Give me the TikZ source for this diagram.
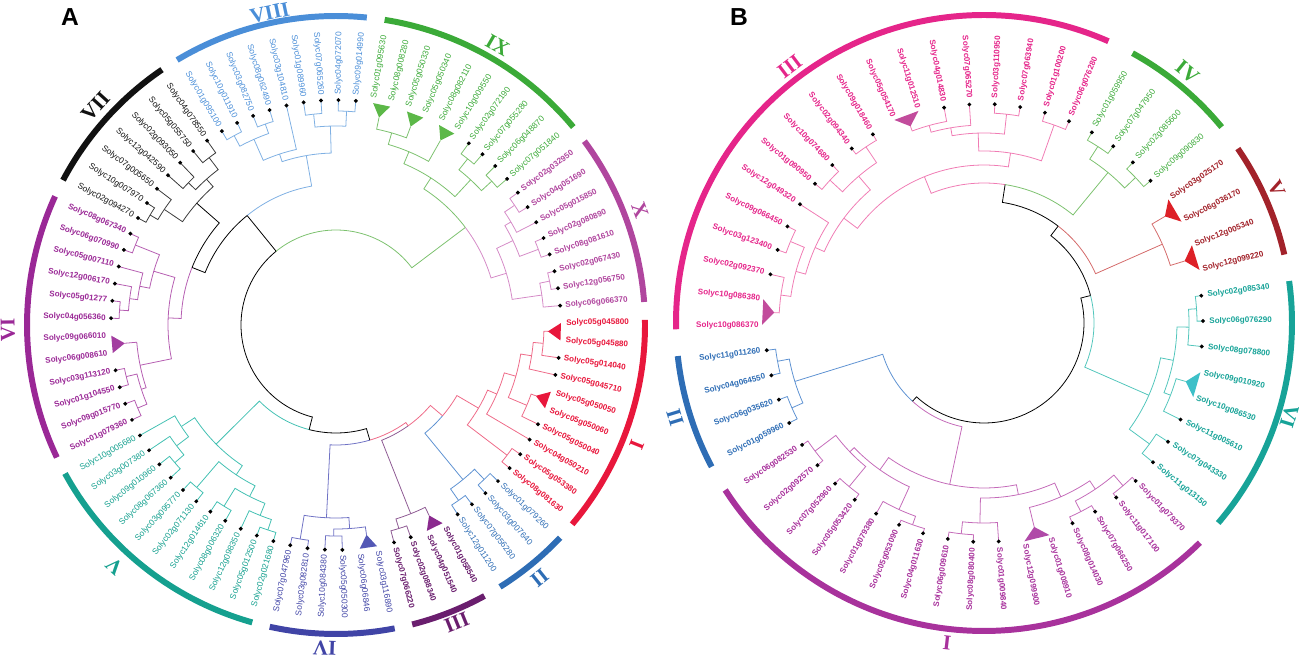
\documentclass[tikz,border=0pt]{standalone}
\usepackage{fontspec}
\setmainfont{Liberation Serif}
\setsansfont{Liberation Sans}
\usetikzlibrary{shapes.geometric}

\definecolor{aVII}{HTML}{111111}\definecolor{aVIIl}{HTML}{3A3A3A}
\definecolor{aVIII}{HTML}{4A8ED8}\definecolor{aVIIIl}{HTML}{7FB0E3}
\definecolor{aIX}{HTML}{3BAA38}\definecolor{aIXl}{HTML}{7CC16E}\definecolor{aIXt}{HTML}{5CB848}
\definecolor{aX}{HTML}{B0469E}\definecolor{aXl}{HTML}{D58BC7}
\definecolor{aI}{HTML}{E8173C}\definecolor{aIl}{HTML}{EE6A88}
\definecolor{aII}{HTML}{2E6DB5}\definecolor{aIIl}{HTML}{5E92D2}
\definecolor{aIII}{HTML}{6A1E6E}\definecolor{aIIIl}{HTML}{8E5A93}\definecolor{aIIIt}{HTML}{8A2A8E}
\definecolor{aIV}{HTML}{4044A6}\definecolor{aIVl}{HTML}{6F72C4}\definecolor{aIVt}{HTML}{5358B5}
\definecolor{aV}{HTML}{15A08F}\definecolor{aVl}{HTML}{42C0B2}
\definecolor{aVI}{HTML}{9A2896}\definecolor{aVIl}{HTML}{B55DB1}\definecolor{aVIt}{HTML}{A33DA0}
\definecolor{bIII}{HTML}{E5258A}\definecolor{bIIIl}{HTML}{F07CB4}\definecolor{bIIIt}{HTML}{C24C9C}
\definecolor{bIV}{HTML}{3BAA38}\definecolor{bIVl}{HTML}{7CC16E}
\definecolor{bV}{HTML}{A2222A}\definecolor{bVl}{HTML}{D46A6A}\definecolor{bVt}{HTML}{DD2027}
\definecolor{bVI}{HTML}{17A398}\definecolor{bVIl}{HTML}{52C6BC}\definecolor{bVIt}{HTML}{3DC0C8}
\definecolor{bI}{HTML}{A8329C}\definecolor{bIl}{HTML}{C46BB9}\definecolor{bIt}{HTML}{B04AA8}
\definecolor{bII}{HTML}{2E6DB5}\definecolor{bIIl}{HTML}{5E92D2}

\tikzset{
  lblb/.style={font=\sffamily\bfseries\fontsize{4.6}{5}\selectfont, inner sep=0pt},
  lbln/.style={font=\sffamily\fontsize{4.8}{5}\selectfont, inner sep=0pt},
  curlbl/.style={lblb},
  leafdot/.style={diamond, fill=black, inner sep=0pt, minimum size=0.09cm},
  tree/.style={line width=0.45pt},
  cladearc/.style={line width=3.4pt},
  numeral/.style={font=\rmfamily\bfseries\fontsize{12}{12}\selectfont, inner sep=0pt},
  panel/.style={font=\sffamily\bfseries\fontsize{14}{14}\selectfont, inner sep=0pt}
}

% one split of the tree: child 1 (index, radius), child 2 (index, radius), node radius, two colours
\newcommand\brn[7]{%
  \pgfmathsetmacro\aA{\ka-(#1)*\ks}%
  \pgfmathsetmacro\aB{\ka-(#3)*\ks}%
  \pgfmathsetmacro\aM{(\aA+\aB)/2}%
  \draw[tree,draw=#6] (\aA:#2) -- (\aA:#5) arc[start angle=\aA, end angle=\aM, radius=#5*0.02cm];
  \draw[tree,draw=#7] (\aM:#5) arc[start angle=\aM, end angle=\aB, radius=#5*0.02cm] -- (\aB:#4);}
\newcommand\brc[5]{\brn{#1}{#2}{#3}{#4}{#5}{\tcl}{\tcl}}

% a leaf: index, text, dot yes/no, colour
\newcommand\leaf[4]{%
  \pgfmathsetmacro\la{\ka-(#1)*\ks}%
  \pgfmathsetmacro\lb{mod(\la+540,360)-180}%
  \pgfmathtruncatemacro\lf{abs(\lb)>90 ? 1 : 0}%
  \ifnum#3=1 \node[leafdot] (\pp d#1) at (\la:\RD) {};\fi
  \ifnum\lf=1
    \node[curlbl,text=#4,anchor=east,rotate=\lb+180] (\pp#1) at (\la:\RT) {#2};
  \else
    \node[curlbl,text=#4,anchor=west,rotate=\lb] (\pp#1) at (\la:\RT) {#2};
  \fi}

\newcommand\tri[2]{%
  \pgfmathsetmacro\tA{\ka-(#1)*\ks}%
  \pgfmathsetmacro\tB{\ka-(#1+1)*\ks}%
  \pgfmathsetmacro\tM{(\tA+\tB)/2}%
  \fill[fill=#2] (\tA:\RB) -- (\tM:\RTip) -- (\tB:\RB) -- cycle;}

\newcommand\clade[3]{%
  \pgfmathsetmacro\cA{\ka-(#1-0.1)*\ks}%
  \pgfmathsetmacro\cB{\ka-(#2+0.15)*\ks}%
  \draw[cladearc,draw=#3] (\cA:\RC) arc[start angle=\cA, end angle=\cB, radius=\RC*0.02cm];}

\newcommand\numeral[5]{%
  \node[numeral,text=#5,rotate=#2-90] (#1) at (#2:#3) {#4};}

\begin{document}
\begin{tikzpicture}[x=0.02cm,y=0.02cm]
\useasboundingbox (0,0) rectangle (1299,656);
\node[panel] (lettA) at (70,639) {A};
\node[panel] (lettB) at (739,639) {B};

% ---------------- panel A
\begin{scope}[shift={(336,331)}]
\def\ka{80.5}\def\ks{4.444444}\def\RD{225}\def\RT{230}\def\RB{225}\def\RTip{212}\def\RC{309}\def\pp{A}
% VII
\def\tcl{aVIIl}
\brc{-16}{\RD}{-15}{\RD}{216}
\brc{-15.5}{216}{-14}{\RD}{207}
\brc{-13}{\RD}{-12}{\RD}{205}
\brc{-11}{\RD}{-10}{\RD}{210}
\brc{-12.5}{205}{-10.5}{210}{195}
\brc{-14.75}{207}{-11.5}{195}{185}
% VIII
\def\tcl{aVIIIl}
\brc{-9}{\RD}{-8}{\RD}{215}
\brc{-7}{\RD}{-6}{\RD}{213}
\brc{-8.5}{215}{-6.5}{213}{203}
\brc{-7.5}{203}{-5}{\RD}{180}
\brc{-4}{\RD}{-3}{\RD}{212}
\brc{-2}{\RD}{-1}{\RD}{214}
\brc{-3.5}{212}{-1.5}{214}{199}
\brc{-6.25}{180}{-2.5}{199}{172}
% IX
\def\tcl{aIXl}
\brc{0.5}{\RTip}{2.5}{\RTip}{200}
\brc{1.5}{200}{4.5}{\RTip}{188}
\brc{6}{\RD}{7}{\RD}{212}
\brc{8}{\RD}{9}{\RD}{212}
\brc{6.5}{212}{8.5}{212}{198}
\brc{3}{188}{7.5}{198}{175}
% X
\def\tcl{aXl}
\brc{10}{\RD}{11}{\RD}{215}
\brc{10.5}{215}{12}{\RD}{203}
\brc{13}{\RD}{14}{\RD}{216}
\brc{11.25}{203}{13.5}{216}{196}
\brc{15}{\RD}{16}{\RD}{218}
\brc{15.5}{218}{17}{\RD}{208}
\brc{12.375}{196}{16.25}{208}{178}
% I
\def\tcl{aIl}
\brc{18.5}{\RTip}{20}{\RD}{208}
\brc{19.25}{208}{21}{\RD}{198}
\brc{22.5}{\RTip}{24}{\RD}{207}
\brc{20.125}{198}{23.25}{207}{187}
\brc{21.6875}{187}{25}{\RD}{175}
\brc{26}{\RD}{27}{\RD}{215}
\brc{23.34375}{175}{26.5}{215}{165}
% II
\def\tcl{aIIl}
\brc{28}{\RD}{29}{\RD}{214}
\brc{30}{\RD}{31}{\RD}{214}
\brc{28.5}{214}{30.5}{214}{200}
% III
\def\tcl{aIIIl}
\brc{34}{\RD}{35}{\RD}{213}
\brc{32.5}{\RTip}{34.5}{213}{203}
% IV
\def\tcl{aIVl}
\brc{40}{\RD}{41}{\RD}{217}
\brc{38}{\RD}{39}{\RD}{211}
\brc{36.5}{\RTip}{38.5}{211}{204}
\brc{37.5}{204}{40.5}{217}{193}
% V
\def\tcl{aVl}
\brc{42}{\RD}{43}{\RD}{216}
\brc{42.5}{216}{44}{\RD}{205}
\brc{45}{\RD}{46}{\RD}{213}
\brc{43.25}{205}{45.5}{213}{192}
\brc{47}{\RD}{48}{\RD}{214}
\brc{44.375}{192}{47.5}{214}{180}
\brc{49}{\RD}{50}{\RD}{212}
\brc{49.5}{212}{51}{\RD}{200}
\brc{50.25}{200}{52}{\RD}{185}
\brc{45.9375}{180}{51.125}{185}{169}
% VI
\def\tcl{aVIl}
\brc{53}{\RD}{54}{\RD}{215}
\brc{55}{\RD}{56}{\RD}{216}
\brc{53.5}{215}{55.5}{216}{205}
\brc{54.5}{205}{57.5}{\RTip}{200}
\brc{59}{\RD}{60}{\RD}{217}
\brc{59.5}{217}{61}{\RD}{208}
\brc{60.25}{208}{62}{\RD}{200}
\brc{63}{\RD}{64}{\RD}{216}
\brc{61.125}{200}{63.5}{216}{190}
\brc{56}{200}{62.3125}{190}{168}
% backbone
\brn{5.25}{175}{14.3125}{178}{162}{aIXl}{aXl}
\brn{24.921875}{165}{29.5}{200}{140}{aIl}{aIIl}
\brn{27.2109}{140}{33.5}{203}{124}{aIl}{aIIIl}
\brn{30.3555}{124}{39}{193}{120}{aIl}{aIVl}
\brn{34.6777}{120}{48.5313}{169}{108}{black}{aVl}
\brn{59.1563}{168}{67.875}{185}{155}{aVIl}{black}
\brn{63.5156}{155}{76.625}{172}{141}{black}{aVIIIl}
\brn{41.6045}{108}{70.0703}{141}{95}{black}{black}
\brn{70.0703}{95}{90.7813}{162}{95}{aIXl}{aIXl}
% collapsed pairs
\tri{0}{aIXt}\tri{2}{aIXt}\tri{4}{aIXt}
\tri{18}{aI}\tri{22}{aI}
\tri{32}{aIIIt}\tri{36}{aIVt}\tri{57}{aVIt}
% leaves
\tikzset{curlbl/.style={lbln}}
\foreach \kk/\nm/\dt in {-16/Solyc02g094270/1,-15/Solyc10g007970/1,-14/Solyc07g005650/1,-13/Solyc12g042590/1,-12/Solyc02g093050/1,-11/Solyc05g055750/1,-10/Solyc04g078550/1}{\leaf{\kk}{\nm}{\dt}{aVII}}
\foreach \kk/\nm/\dt in {-9/Solyc01g095100/1,-8/Solyc10g011910/1,-7/Solyc03g082750/1,-6/Solyc08g062490/1,-5/Solyc03g104810/1,-4/Solyc01g089960/1,-3/Solyc07g065260/1,-2/Solyc04g072070/1,-1/Solyc09g014990/1}{\leaf{\kk}{\nm}{\dt}{aVIII}}
\foreach \kk/\nm/\dt in {0/Solyc01g095630/0,1/Solyc08g008280/0,2/Solyc05g050330/0,3/Solyc05g050340/0,4/Solyc08g082110/0,5/Solyc10g009550/0,6/Solyc02g072190/1,7/Solyc07g055280/1,8/Solyc06g048870/1,9/Solyc07g051840/1}{\leaf{\kk}{\nm}{\dt}{aIX}}
\foreach \kk/\nm/\dt in {28/Solyc01g079260/1,29/Solyc03g007640/1,30/Solyc07g056280/1,31/Solyc12g011200/1}{\leaf{\kk}{\nm}{\dt}{aII}}
\foreach \kk/\nm/\dt in {36/Solyc03g116890/0,37/Solyc06g06846/0,38/Solyc05g050300/1,39/Solyc10g084380/1,40/Solyc03g082810/1,41/Solyc07g047960/1}{\leaf{\kk}{\nm}{\dt}{aIV}}
\foreach \kk/\nm/\dt in {42/Solyc02g021680/1,43/Solyc05g012500/1,44/Solyc12g098350/1,45/Solyc08g006320/1,46/Solyc12g014610/1,47/Solyc02g071130/1,48/Solyc03g095770/1,49/Solyc08g067360/1,50/Solyc09g010960/1,51/Solyc03g007380/1,52/Solyc10g005680/1}{\leaf{\kk}{\nm}{\dt}{aV}}
\tikzset{curlbl/.style={lblb}}
\foreach \kk/\nm/\dt in {10/Solyc02g032950/1,11/Solyc04g051690/1,12/Solyc05g015850/1,13/Solyc02g080890/1,14/Solyc08g081610/1,15/Solyc02g067430/1,16/Solyc12g056750/1,17/Solyc06g066370/1}{\leaf{\kk}{\nm}{\dt}{aX}}
\foreach \kk/\nm/\dt in {18/Solyc05g045800/0,19/Solyc05g045880/0,20/Solyc05g014040/1,21/Solyc05g045710/1,22/Solyc05g050050/0,23/Solyc05g050060/0,24/Solyc05g050040/1,25/Solyc04g050210/1,26/Solyc05g053380/1,27/Solyc08g081630/1}{\leaf{\kk}{\nm}{\dt}{aI}}
\foreach \kk/\nm/\dt in {32/Solyc01g058540/0,33/Solyc04g051540/0,34/Solyc02g088340/1,35/Solyc07g066220/1}{\leaf{\kk}{\nm}{\dt}{aIII}}
\foreach \kk/\nm/\dt in {53/Solyc01g079360/1,54/Solyc09g015770/1,55/Solyc01g104550/1,56/Solyc03g113120/1,57/Solyc06g008610/0,58/Solyc09g066010/0,59/Solyc04g056360/1,60/Solyc05g01277/1,61/Solyc12g006170/1,62/Solyc05g007110/1,63/Solyc06g070990/1,64/Solyc08g067340/1}{\leaf{\kk}{\nm}{\dt}{aVI}}
% clade bars
\clade{-16}{-10}{aVII}\clade{-9}{-1}{aVIII}\clade{0}{9}{aIX}\clade{10}{17}{aX}
\clade{18}{27}{aI}\clade{28}{31}{aII}\clade{32}{35}{aIII}\clade{36}{41}{aIV}
\clade{42}{52}{aV}\clade{53}{64}{aVI}
\numeral{nAVII}{137.7}{325}{VII}{aVII}
\numeral{nAVIII}{102}{319}{VIII}{aVIII}
\numeral{nAIX}{60}{323}{IX}{aIX}
\numeral{nAX}{20.7}{325}{X}{aX}
\numeral{nAI}{-21.8}{324}{I}{aI}
\numeral{nAII}{-51.2}{325}{II}{aII}
\numeral{nAIII}{-67.9}{321}{III}{aIII}
\numeral{nAIV}{-92}{323}{IV}{aIV}
\numeral{nAV}{-132.5}{328}{V}{aV}
\numeral{nAVI}{180.9}{328}{VI}{aVI}
\end{scope}

% ---------------- panel B
\begin{scope}[shift={(984,333)}]
\def\ka{180.5}\def\ks{6.666667}\def\RD{219}\def\RT{225}\def\RB{222}\def\RTip{210}\def\RC{308}\def\pp{B}
% III
\def\tcl{bIIIl}
\brc{0.5}{\RTip}{2}{\RD}{205}
\brc{3}{\RD}{4}{\RD}{210}
\brc{1.25}{205}{3.5}{210}{195}
\brc{2.375}{195}{5}{\RD}{185}
\brc{6}{\RD}{7}{\RD}{210}
\brc{8}{\RD}{9}{\RD}{212}
\brc{6.5}{210}{8.5}{212}{193}
\brc{3.6875}{185}{7.5}{193}{175}
\brc{10.5}{\RTip}{12}{\RD}{205}
\brc{11.25}{205}{13}{\RD}{198}
\brc{14}{\RD}{15}{\RD}{210}
\brc{12.125}{198}{14.5}{210}{190}
\brc{16}{\RD}{17}{\RD}{210}
\brc{13.3125}{190}{16.5}{210}{172}
\brc{5.59375}{175}{14.90625}{172}{158}
% IV
\def\tcl{bIVl}
\brc{18}{\RD}{19}{\RD}{210}
\brc{20}{\RD}{21}{\RD}{210}
\brc{18.5}{210}{20.5}{210}{195}
% V
\def\tcl{bVl}
\brc{22.5}{\RTip}{24.5}{\RTip}{195}
% VI
\def\tcl{bVIl}
\brc{26}{\RD}{27}{\RD}{213}
\brc{26.5}{213}{28}{\RD}{205}
\brc{29.5}{\RTip}{31}{\RD}{200}
\brc{27.25}{205}{30.25}{200}{193}
\brc{32}{\RD}{33}{\RD}{205}
\brc{28.75}{193}{32.5}{205}{180}
% I
\def\tcl{bIl}
\brc{48}{\RD}{49}{\RD}{212}
\brc{46}{\RD}{47}{\RD}{212}
\brc{46.5}{212}{48.5}{212}{186}
\brc{43}{\RD}{44}{\RD}{214}
\brc{43.5}{214}{45}{\RD}{205}
\brc{44.25}{205}{47.5}{186}{180}
\brc{41}{\RD}{42}{\RD}{212}
\brc{36}{\RD}{37}{\RD}{212}
\brc{34}{\RD}{35}{\RD}{214}
\brc{34.5}{214}{36.5}{212}{200}
\brc{35.5}{200}{38.5}{\RTip}{190}
\brc{40}{\RD}{41.5}{212}{200}
\brc{37}{190}{40.75}{200}{175}
\brc{38.875}{175}{45.875}{180}{165}
% II
\def\tcl{bIIl}
\brc{50}{\RD}{51}{\RD}{210}
\brc{52}{\RD}{53}{\RD}{210}
\brc{50.5}{210}{52.5}{210}{198}
% backbone
\brn{10.25}{158}{19.5}{195}{140}{bIIIl}{bIVl}
\brn{14.875}{140}{23.5}{195}{122}{black}{bVl}
\brn{19.1875}{122}{30.625}{180}{110}{black}{bVIl}
\brn{42.375}{165}{51.5}{198}{106}{bIl}{bIIl}
\brn{24.90625}{110}{46.9375}{106}{100}{black}{black}
% collapsed pairs
\tri{0}{bIIIt}\tri{10}{bIIIt}\tri{22}{bVt}\tri{24}{bVt}\tri{29}{bVIt}\tri{38}{bIt}
% leaves
\tikzset{curlbl/.style={lblb}}
\foreach \kk/\nm/\dt in {0/Solyc10g086370/0,1/Solyc10g086380/0,2/Solyc02g092370/1,3/Solyc03g123400/1,4/Solyc09g066450/1,5/Solyc12g049320/1,6/Solyc01g090950/1,7/Solyc10g074680/1,8/Solyc02g094340/1,9/Solyc09g018460/1,10/Solyc05g054170/0,11/Solyc11g012510/0,12/Solyc04g014830/1,13/Solyc07g065270/1,14/Solyc03g110950/1,15/Solyc07g063940/1,16/Solyc01g100200/1,17/Solyc06g076280/1}{\leaf{\kk}{\nm}{\dt}{bIII}}
\foreach \kk/\nm/\dt in {22/Solyc03g025170/0,23/Solyc06g036170/0,24/Solyc12g005340/0,25/Solyc12g099220/0}{\leaf{\kk}{\nm}{\dt}{bV}}
\foreach \kk/\nm/\dt in {26/Solyc02g085340/1,27/Solyc06g076290/1,28/Solyc08g078800/1,29/Solyc09g010920/0,30/Solyc10g086530/0,31/Solyc11g005610/1,32/Solyc07g043330/1,33/Solyc11g013150/1}{\leaf{\kk}{\nm}{\dt}{bVI}}
\foreach \kk/\nm/\dt in {34/Solyc01g079370/1,35/Solyc11g017100/1,36/Solyc07g066250/1,37/Solyc08g014030/1,38/Solyc01g008910/0,39/Solyc12g099900/0,40/Solyc01g009840/1,41/Solyc08g080400/1,42/Solyc06g009610/1,43/Solyc04g011630/1,44/Solyc05g053090/1,45/Solyc01g079380/1,46/Solyc05g053420/1,47/Solyc07g052960/1,48/Solyc02g092570/1,49/Solyc06g082530/1}{\leaf{\kk}{\nm}{\dt}{bI}}
\foreach \kk/\nm/\dt in {50/Solyc01g059960/1,51/Solyc06g035620/1,52/Solyc04g064550/1,53/Solyc11g011260/1}{\leaf{\kk}{\nm}{\dt}{bII}}
\tikzset{curlbl/.style={lbln}}
\foreach \kk/\nm/\dt in {18/Solyc01g059950/1,19/Solyc07g047950/1,20/Solyc02g085600/1,21/Solyc09g090830/1}{\leaf{\kk}{\nm}{\dt}{bIV}}
% clade bars
\clade{0}{17}{bIII}\clade{18}{21}{bIV}\clade{22}{25}{bV}
\clade{26}{33}{bVI}\clade{34}{49}{bI}\clade{50}{53}{bII}
\numeral{nBIII}{127.1}{322}{III}{bIII}
\numeral{nBIV}{51}{323}{IV}{bIV}
\numeral{nBV}{24.7}{322}{V}{bV}
\numeral{nBVI}{-17}{319}{VI}{bVI}
\numeral{nBI}{-96.6}{322}{I}{bI}
\numeral{nBII}{197}{323}{II}{bII}
\end{scope}
\end{tikzpicture}
\end{document}
